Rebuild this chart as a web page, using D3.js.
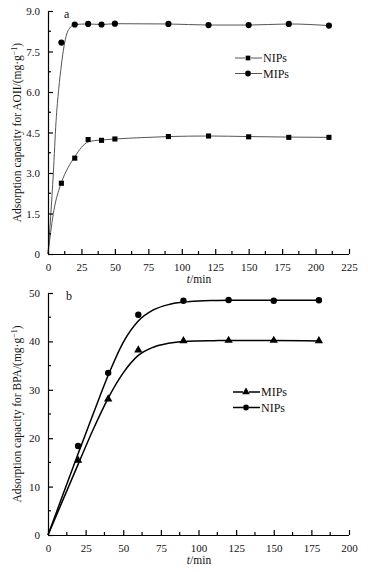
<!DOCTYPE html>
<html><head><meta charset="utf-8">
<script src="https://cdn.jsdelivr.net/npm/d3@7"></script>
<style>
body{margin:0;background:#fff;}
svg text{font-family:"Liberation Serif","Times New Roman",serif;fill:#111;}
</style></head>
<body><svg id="c" width="368" height="572"></svg>
<script>
// ---- Panel a (AOII) ----
const aTimes = [10, 20, 30, 40, 50, 90, 120, 150, 180, 210];
const aMIPs  = [7.83, 8.5, 8.52, 8.5, 8.53, 8.52, 8.48, 8.48, 8.52, 8.46];
const aNIPs  = [2.62, 3.55, 4.24, 4.21, 4.26, 4.35, 4.37, 4.34, 4.32, 4.32];
const aFitT    = [0, 2, 4, 6, 8, 10, 12, 14, 16, 18, 20, 30, 40, 50, 90, 120, 150, 180, 210];
const aFitMIPs = [0, 1.4, 3.0, 4.9, 6.1, 7.0, 7.7, 8.15, 8.35, 8.46, 8.5, 8.52, 8.5, 8.53, 8.52, 8.48, 8.48, 8.52, 8.46];
const aFitT2   = [0, 2, 4, 6, 8, 10, 15, 20, 25, 30, 35, 40, 50, 70, 90, 120, 150, 180, 210];
const aFitNIPs = [0, 0.8, 1.5, 2.0, 2.35, 2.65, 3.2, 3.6, 3.95, 4.15, 4.2, 4.22, 4.26, 4.31, 4.35, 4.37, 4.35, 4.33, 4.32];
const aXTicks = [0, 25, 50, 75, 100, 125, 150, 175, 200, 225];
const aYTicks = [0, 1.5, 3.0, 4.5, 6.0, 7.5, 9.0];
const aYLabels = ["0", "1.5", "3.0", "4.5", "6.0", "7.5", "9.0"];

// ---- Panel b (BPA) ----
const bTimes = [20, 40, 60, 90, 120, 150, 180];
const bNIPs  = [18.4, 33.5, 45.5, 48.4, 48.55, 48.4, 48.5];
const bMIPs  = [15.4, 28.1, 38.2, 40.1, 40.2, 40.2, 40.1];
const bFitT    = [0, 10, 20, 30, 40, 50, 60, 70, 80, 90, 100, 110, 120, 150, 180];
const bFitNIPs = [0, 8.4, 16.8, 25.0, 33.0, 39.8, 44.2, 46.5, 47.6, 48.1, 48.35, 48.45, 48.5, 48.5, 48.5];
const bFitMIPs = [0, 7.3, 14.6, 21.8, 28.3, 33.5, 37.1, 38.8, 39.6, 40.0, 40.1, 40.15, 40.2, 40.2, 40.1];
const bXTicks = [0, 25, 50, 75, 100, 125, 150, 175, 200];
const bYTicks = [0, 10, 20, 30, 40, 50];

const svg = d3.select("#c");

function panel(o) {
  const g = svg.append("g");
  const x = d3.scaleLinear().domain(o.xd).range([48, 349]);
  const y = d3.scaleLinear().domain(o.yd).range([o.y0, o.y1]);
  const line = d3.line().x(d => x(d[0])).y(d => y(d[1])).curve(d3.curveMonotoneX);
  o.fits.forEach(f => {
    g.append("path").attr("d", line(d3.zip(f.t, f.v)))
      .attr("fill", "none").attr("stroke", o.lineColor).attr("stroke-width", o.lineW);
  });
  o.series.forEach(s => {
    const pts = d3.zip(s.t, s.v);
    const sym = d3.symbol().type(s.sym).size(s.size);
    g.selectAll(null).data(pts).enter().append("path")
      .attr("d", sym).attr("transform", d => `translate(${x(d[0])},${y(d[1])})`)
      .attr("fill", "#000");
  });
  const xAxis = d3.axisBottom(x).tickValues(o.xTicks).tickSize(-5).tickPadding(9).tickFormat(d3.format("d"));
  const gx = g.append("g").attr("transform", `translate(0,${o.y0})`).call(xAxis);
  const yAxis = d3.axisLeft(y).tickValues(o.yTicks).tickSize(-5).tickPadding(8).tickFormat((d, i) => o.yLabels[i]);
  const gy = g.append("g").attr("transform", "translate(48,0)").call(yAxis);
  [gx, gy].forEach(a => {
    a.select(".domain").attr("stroke", "#000").attr("stroke-width", 1.2);
    a.selectAll(".tick line").attr("stroke", "#000").attr("stroke-width", 1.2);
    a.selectAll("text").attr("font-size", 11).attr("font-family", "Liberation Serif").attr("fill", "#111");
  });
  gy.select(".domain").attr("d", `M0.5,${o.y0}V${o.y1}`);
  gx.select(".domain").attr("d", `M48,0.5H349`);
  const xm = []; for (let i = 0; i < o.xTicks.length - 1; i++) xm.push((o.xTicks[i] + o.xTicks[i + 1]) / 2);
  g.selectAll(null).data(xm).enter().append("line")
    .attr("x1", d => x(d)).attr("x2", d => x(d)).attr("y1", o.y0).attr("y2", o.y0 - 3)
    .attr("stroke", "#000").attr("stroke-width", 1.2);
  const ym = []; for (let i = 0; i < o.yTicks.length - 1; i++) ym.push((o.yTicks[i] + o.yTicks[i + 1]) / 2);
  g.selectAll(null).data(ym).enter().append("line")
    .attr("x1", 48).attr("x2", 51).attr("y1", d => y(d)).attr("y2", d => y(d))
    .attr("stroke", "#000").attr("stroke-width", 1.2);
  const xt = g.append("text").attr("x", 199).attr("y", o.y0 + 29).attr("text-anchor", "middle").attr("font-size", 11.5);
  xt.append("tspan").attr("font-style", "italic").text("t");
  xt.append("tspan").text("/min");
  const yt = g.append("text").attr("transform", `translate(21,${(o.y0 + o.y1) / 2}) rotate(-90)`)
    .attr("text-anchor", "middle").attr("font-size", 11.5);
  yt.append("tspan").text(o.yTitle + "/(mg·g");
  yt.append("tspan").attr("dy", -4).attr("font-size", 8).text("−1");
  yt.append("tspan").attr("dy", 4).text(")");
  g.append("text").attr("x", o.letterX).attr("y", o.y1 + 7).attr("font-size", 12).text(o.letter);
  o.legend.forEach((l, i) => {
    const ly = o.legY + i * 15.5;
    g.append("line").attr("x1", o.legX).attr("x2", o.legX + 10).attr("y1", ly).attr("y2", ly)
      .attr("stroke", o.lineColor).attr("stroke-width", o.lineW);
    g.append("line").attr("x1", o.legX + 16).attr("x2", o.legX + 27).attr("y1", ly).attr("y2", ly)
      .attr("stroke", o.lineColor).attr("stroke-width", o.lineW);
    g.append("path").attr("d", d3.symbol().type(l.sym).size(l.size)).attr("transform", `translate(${o.legX + 13},${ly})`).attr("fill", "#000");
    g.append("text").attr("x", o.legX + 28).attr("y", ly + 4).attr("font-size", 12).text(l.name);
  });
}

panel({
  xd: [0, 225], yd: [0, 9], y0: 254, y1: 11,
  xTicks: aXTicks, yTicks: aYTicks, yLabels: aYLabels,
  lineColor: "#555", lineW: 1,
  fits: [{ t: aFitT, v: aFitMIPs }, { t: aFitT2, v: aFitNIPs }],
  series: [{ t: aTimes, v: aMIPs, sym: d3.symbolCircle, size: 30 },
           { t: aTimes, v: aNIPs, sym: d3.symbolSquare, size: 26 }],
  yTitle: "Adsorption capacity for AOII",
  letter: "a", letterX: 64,
  legX: 235, legY: 58,
  legend: [{ name: "NIPs", sym: d3.symbolSquare, size: 22 }, { name: "MIPs", sym: d3.symbolCircle, size: 26 }]
});

panel({
  xd: [0, 200], yd: [0, 50], y0: 535, y1: 293,
  xTicks: bXTicks, yTicks: bYTicks, yLabels: bYTicks.map(String),
  lineColor: "#000", lineW: 1.5,
  fits: [{ t: bFitT, v: bFitNIPs }, { t: bFitT, v: bFitMIPs }],
  series: [{ t: bTimes, v: bNIPs, sym: d3.symbolCircle, size: 32 },
           { t: bTimes, v: bMIPs, sym: d3.symbolTriangle, size: 30 }],
  yTitle: "Adsorption capacity for BPA",
  letter: "b", letterX: 66,
  legX: 233, legY: 392,
  legend: [{ name: "MIPs", sym: d3.symbolTriangle, size: 26 }, { name: "NIPs", sym: d3.symbolCircle, size: 26 }]
});
</script></body></html>
